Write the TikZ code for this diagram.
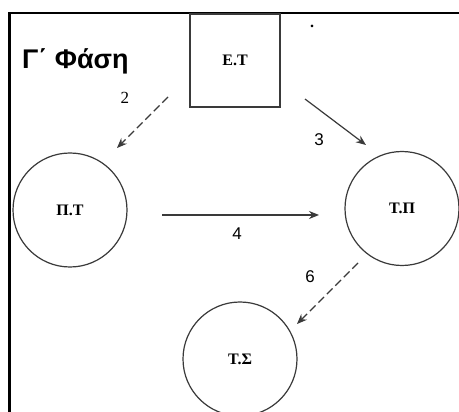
\documentclass[tikz,border=0pt]{standalone}
\usepackage{fontspec}
\setmainfont{Liberation Serif}
\newfontfamily\lsans{Liberation Sans}
\newfontfamily\lserif{Liberation Serif}
\usetikzlibrary{arrows.meta}
\definecolor{linegray}{HTML}{3A3A3A}
\tikzset{
  stateC/.style={circle,draw=linegray,line width=1.2pt,minimum size=114pt,inner sep=0pt,font=\lserif\bfseries\fontsize{16}{18}\selectfont},
  stateB/.style={rectangle,draw=linegray,line width=1.2pt,minimum width=90pt,minimum height=93pt,inner sep=0pt,font=\lserif\bfseries\fontsize{16}{18}\selectfont},
  conn/.style={draw=linegray,line width=1.2pt,-{Stealth[length=10pt,width=8pt]}},
  dconn/.style={conn,dash pattern=on 8pt off 4pt},
  lbl/.style={font=\lsans\fontsize{17}{19}\selectfont,inner sep=0pt},
}
\begin{document}
\begin{tikzpicture}[x=1pt,y=-1pt]
\useasboundingbox (0,0) rectangle (459,412);
\fill[white] (0,0) rectangle (459,412);
% frame
\draw[line width=2.4pt,black] (9.5,412) -- (9.5,13) -- (459,13);
% title
\node[anchor=base west,inner sep=0pt,font=\lsans\bfseries\fontsize{27}{30}\selectfont] (title) at (22,69) {Γ΄ Φάση};
\node[anchor=base,inner sep=0pt,font=\lserif\bfseries\fontsize{16}{18}\selectfont] (dot) at (312,28) {.};
% nodes
\node[stateB] (ET) at (235,60.5) {Ε.Τ};
\node[stateC] (PT) at (70,210) {Π.Τ};
\node[stateC] (TP) at (402,208.5) {Τ.Π};
\node[stateC] (TS) at (240,359) {Τ.Σ};
% connector ends
\coordinate (c2s) at (168,97);
\coordinate (c2e) at (117,148);
\coordinate (c3s) at (305,99);
\coordinate (c3e) at (366,145);
\coordinate (c4s) at (162,215);
\coordinate (c4e) at (319,215);
\coordinate (c6s) at (358,263);
\coordinate (c6e) at (297,324);
\draw[dconn] (c2s) -- (c2e);
\draw[conn] (c3s) -- (c3e);
\draw[conn] (c4s) -- (c4e);
\draw[dconn] (c6s) -- (c6e);
% labels
\node[lbl,font=\lserif\fontsize{17}{19}\selectfont] (l2) at (125,98) {2};
\node[lbl] (l3) at (319,140) {3};
\node[lbl] (l4) at (237,234) {4};
\node[lbl] (l6) at (310,277) {6};
\end{tikzpicture}
\end{document}
